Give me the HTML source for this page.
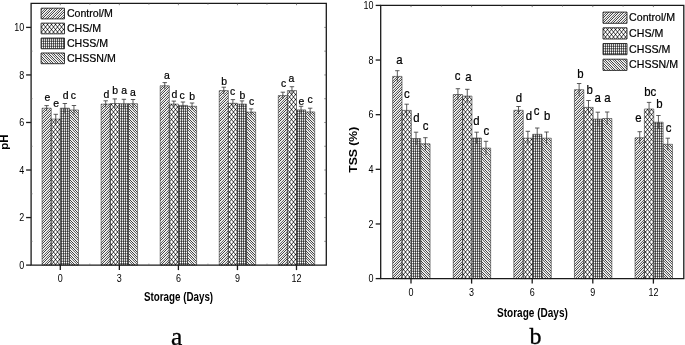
<!DOCTYPE html><html><head><meta charset="utf-8"><title>pH and TSS</title><style>html,body{margin:0;padding:0;background:#fff;width:685px;height:345px;overflow:hidden}svg{display:block;filter:grayscale(1)}</style></head><body>
<svg width="685" height="345" viewBox="0 0 685 345">
<defs><pattern id="ps1" patternUnits="userSpaceOnUse" x="0" y="0" width="5" height="5"><rect width="5" height="5" fill="#fff"/><path d="M0 0h1v1h-1zM1 4h1v1h-1zM2 3h1v1h-1zM3 2h1v1h-1zM4 1h1v1h-1z" fill="rgb(65,65,65)"/><path d="M0 3h1v1h-1zM1 2h1v1h-1zM2 1h1v1h-1zM3 0h1v1h-1zM4 4h1v1h-1z" fill="rgb(105,105,105)"/><path d="M0 2h1v1h-1zM1 1h1v1h-1zM2 0h1v1h-1zM3 4h1v1h-1zM4 3h1v1h-1z" fill="rgb(225,225,225)"/><path d="M0 1h1v1h-1zM1 0h1v1h-1zM2 4h1v1h-1zM3 3h1v1h-1zM4 2h1v1h-1z" fill="rgb(240,240,240)"/><path d="M0 4h1v1h-1zM1 3h1v1h-1zM2 2h1v1h-1zM3 1h1v1h-1zM4 0h1v1h-1z" fill="rgb(245,245,245)"/></pattern><pattern id="ps4" patternUnits="userSpaceOnUse" x="0" y="0" width="5" height="5"><rect width="5" height="5" fill="#fff"/><path d="M0 0h1v1h-1zM1 1h1v1h-1zM2 2h1v1h-1zM3 3h1v1h-1zM4 4h1v1h-1z" fill="rgb(65,65,65)"/><path d="M0 2h1v1h-1zM1 3h1v1h-1zM2 4h1v1h-1zM3 0h1v1h-1zM4 1h1v1h-1z" fill="rgb(105,105,105)"/><path d="M0 3h1v1h-1zM1 4h1v1h-1zM2 0h1v1h-1zM3 1h1v1h-1zM4 2h1v1h-1z" fill="rgb(225,225,225)"/><path d="M0 4h1v1h-1zM1 0h1v1h-1zM2 1h1v1h-1zM3 2h1v1h-1zM4 3h1v1h-1z" fill="rgb(240,240,240)"/><path d="M0 1h1v1h-1zM1 2h1v1h-1zM2 3h1v1h-1zM3 4h1v1h-1zM4 0h1v1h-1z" fill="rgb(245,245,245)"/></pattern><pattern id="pc" patternUnits="userSpaceOnUse" x="0" y="0" width="4" height="5"><rect width="4" height="5" fill="#fff"/><path d="M3 4h1v1h-1z" fill="rgb(12,12,12)"/><path d="M1 1h1v1h-1zM1 2h1v1h-1z" fill="rgb(70,70,70)"/><path d="M0 0h1v1h-1zM0 3h1v1h-1zM2 0h1v1h-1zM2 3h1v1h-1z" fill="rgb(109,109,109)"/><path d="M0 1h1v1h-1zM0 2h1v1h-1zM2 1h1v1h-1zM2 2h1v1h-1z" fill="rgb(188,188,188)"/><path d="M3 0h1v1h-1zM3 3h1v1h-1z" fill="rgb(191,191,191)"/><path d="M0 4h1v1h-1zM2 4h1v1h-1z" fill="rgb(235,235,235)"/></pattern><pattern id="pg" patternUnits="userSpaceOnUse" x="0" y="0" width="2" height="5"><rect width="2" height="5" fill="#fff"/><path d="M1 1h1v1h-1zM1 3h1v1h-1z" fill="rgb(56,56,56)"/><path d="M1 0h1v1h-1zM1 4h1v1h-1z" fill="rgb(87,87,87)"/><path d="M1 2h1v1h-1z" fill="rgb(102,102,102)"/><path d="M0 1h1v1h-1zM0 3h1v1h-1z" fill="rgb(140,140,140)"/><path d="M0 0h1v1h-1zM0 4h1v1h-1z" fill="rgb(217,217,217)"/></pattern></defs>
<rect width="685" height="345" fill="#fff"/>
<path d="M42.10 108.20h9.10v156.90h-9.10ZM101.15 104.10h9.10v161.00h-9.10ZM160.20 85.80h9.10v179.30h-9.10ZM219.25 90.60h9.10v174.50h-9.10ZM278.30 95.60h9.10v169.50h-9.10ZM41.10 8.20h23.40v10.70h-23.40Z" fill="url(#ps1)"/>
<path d="M51.20 119.10h9.10v146.00h-9.10ZM110.25 103.50h9.10v161.60h-9.10ZM169.30 104.10h9.10v161.00h-9.10ZM228.35 103.30h9.10v161.80h-9.10ZM287.40 90.60h9.10v174.50h-9.10ZM41.10 23.13h23.40v10.70h-23.40Z" fill="url(#pc)"/>
<path d="M60.30 108.20h9.10v156.90h-9.10ZM119.35 103.70h9.10v161.40h-9.10ZM178.40 105.40h9.10v159.70h-9.10ZM237.45 104.10h9.10v161.00h-9.10ZM296.50 109.90h9.10v155.20h-9.10ZM41.10 38.06h23.40v10.70h-23.40Z" fill="url(#pg)"/>
<path d="M69.40 110.00h9.10v155.10h-9.10ZM128.45 103.70h9.10v161.40h-9.10ZM187.50 106.30h9.10v158.80h-9.10ZM246.55 112.10h9.10v153.00h-9.10ZM305.60 111.90h9.10v153.20h-9.10ZM41.10 52.99h23.40v10.70h-23.40Z" fill="url(#ps4)"/>
<path d="M42.10 108.20h9.10v156.90h-9.10ZM101.15 104.10h9.10v161.00h-9.10ZM160.20 85.80h9.10v179.30h-9.10ZM219.25 90.60h9.10v174.50h-9.10ZM278.30 95.60h9.10v169.50h-9.10ZM51.20 119.10h9.10v146.00h-9.10ZM110.25 103.50h9.10v161.60h-9.10ZM169.30 104.10h9.10v161.00h-9.10ZM228.35 103.30h9.10v161.80h-9.10ZM287.40 90.60h9.10v174.50h-9.10ZM60.30 108.20h9.10v156.90h-9.10ZM119.35 103.70h9.10v161.40h-9.10ZM178.40 105.40h9.10v159.70h-9.10ZM237.45 104.10h9.10v161.00h-9.10ZM296.50 109.90h9.10v155.20h-9.10ZM69.40 110.00h9.10v155.10h-9.10ZM128.45 103.70h9.10v161.40h-9.10ZM187.50 106.30h9.10v158.80h-9.10ZM246.55 112.10h9.10v153.00h-9.10ZM305.60 111.90h9.10v153.20h-9.10Z" fill="none" stroke="#333" stroke-width="0.6"/>
<path d="M41.10 8.20h23.40v10.70h-23.40ZM41.10 23.13h23.40v10.70h-23.40ZM41.10 38.06h23.40v10.70h-23.40ZM41.10 52.99h23.40v10.70h-23.40Z" fill="none" stroke="#222" stroke-width="0.9"/>
<line x1="46.65" y1="105.60" x2="46.65" y2="110.80" stroke="#333" stroke-width="0.8"/>
<line x1="44.45" y1="105.60" x2="48.85" y2="105.60" stroke="#333" stroke-width="0.8"/>
<line x1="55.75" y1="114.30" x2="55.75" y2="123.90" stroke="#333" stroke-width="0.8"/>
<line x1="53.55" y1="114.30" x2="57.95" y2="114.30" stroke="#333" stroke-width="0.8"/>
<line x1="64.85" y1="103.50" x2="64.85" y2="112.90" stroke="#333" stroke-width="0.8"/>
<line x1="62.65" y1="103.50" x2="67.05" y2="103.50" stroke="#333" stroke-width="0.8"/>
<line x1="73.95" y1="105.50" x2="73.95" y2="114.50" stroke="#333" stroke-width="0.8"/>
<line x1="71.75" y1="105.50" x2="76.15" y2="105.50" stroke="#333" stroke-width="0.8"/>
<text transform="translate(47.40,100.60) scale(0.95,1)" font-family='"Liberation Sans", sans-serif' font-size="11" font-weight="normal" text-anchor="middle" fill="#000" stroke="#000" stroke-width="0.22">e</text>
<text transform="translate(56.20,106.90) scale(0.95,1)" font-family='"Liberation Sans", sans-serif' font-size="11" font-weight="normal" text-anchor="middle" fill="#000" stroke="#000" stroke-width="0.22">e</text>
<text transform="translate(65.60,98.70) scale(0.95,1)" font-family='"Liberation Sans", sans-serif' font-size="11" font-weight="normal" text-anchor="middle" fill="#000" stroke="#000" stroke-width="0.22">d</text>
<text transform="translate(73.40,98.70) scale(0.95,1)" font-family='"Liberation Sans", sans-serif' font-size="11" font-weight="normal" text-anchor="middle" fill="#000" stroke="#000" stroke-width="0.22">c</text>
<line x1="105.70" y1="100.80" x2="105.70" y2="107.40" stroke="#333" stroke-width="0.8"/>
<line x1="103.50" y1="100.80" x2="107.90" y2="100.80" stroke="#333" stroke-width="0.8"/>
<line x1="114.80" y1="98.90" x2="114.80" y2="108.10" stroke="#333" stroke-width="0.8"/>
<line x1="112.60" y1="98.90" x2="117.00" y2="98.90" stroke="#333" stroke-width="0.8"/>
<line x1="123.90" y1="99.30" x2="123.90" y2="108.10" stroke="#333" stroke-width="0.8"/>
<line x1="121.70" y1="99.30" x2="126.10" y2="99.30" stroke="#333" stroke-width="0.8"/>
<line x1="133.00" y1="99.50" x2="133.00" y2="107.90" stroke="#333" stroke-width="0.8"/>
<line x1="130.80" y1="99.50" x2="135.20" y2="99.50" stroke="#333" stroke-width="0.8"/>
<text transform="translate(106.40,98.20) scale(0.95,1)" font-family='"Liberation Sans", sans-serif' font-size="11" font-weight="normal" text-anchor="middle" fill="#000" stroke="#000" stroke-width="0.22">d</text>
<text transform="translate(115.20,93.70) scale(0.95,1)" font-family='"Liberation Sans", sans-serif' font-size="11" font-weight="normal" text-anchor="middle" fill="#000" stroke="#000" stroke-width="0.22">b</text>
<text transform="translate(124.10,94.30) scale(0.95,1)" font-family='"Liberation Sans", sans-serif' font-size="11" font-weight="normal" text-anchor="middle" fill="#000" stroke="#000" stroke-width="0.22">a</text>
<text transform="translate(132.80,96.30) scale(0.95,1)" font-family='"Liberation Sans", sans-serif' font-size="11" font-weight="normal" text-anchor="middle" fill="#000" stroke="#000" stroke-width="0.22">a</text>
<line x1="164.75" y1="82.60" x2="164.75" y2="89.00" stroke="#333" stroke-width="0.8"/>
<line x1="162.55" y1="82.60" x2="166.95" y2="82.60" stroke="#333" stroke-width="0.8"/>
<line x1="173.85" y1="101.10" x2="173.85" y2="107.10" stroke="#333" stroke-width="0.8"/>
<line x1="171.65" y1="101.10" x2="176.05" y2="101.10" stroke="#333" stroke-width="0.8"/>
<line x1="182.95" y1="102.00" x2="182.95" y2="108.80" stroke="#333" stroke-width="0.8"/>
<line x1="180.75" y1="102.00" x2="185.15" y2="102.00" stroke="#333" stroke-width="0.8"/>
<line x1="192.05" y1="103.00" x2="192.05" y2="109.60" stroke="#333" stroke-width="0.8"/>
<line x1="189.85" y1="103.00" x2="194.25" y2="103.00" stroke="#333" stroke-width="0.8"/>
<text transform="translate(167.00,79.10) scale(0.95,1)" font-family='"Liberation Sans", sans-serif' font-size="11" font-weight="normal" text-anchor="middle" fill="#000" stroke="#000" stroke-width="0.22">a</text>
<text transform="translate(174.30,97.60) scale(0.95,1)" font-family='"Liberation Sans", sans-serif' font-size="11" font-weight="normal" text-anchor="middle" fill="#000" stroke="#000" stroke-width="0.22">d</text>
<text transform="translate(182.10,99.10) scale(0.95,1)" font-family='"Liberation Sans", sans-serif' font-size="11" font-weight="normal" text-anchor="middle" fill="#000" stroke="#000" stroke-width="0.22">c</text>
<text transform="translate(192.10,100.20) scale(0.95,1)" font-family='"Liberation Sans", sans-serif' font-size="11" font-weight="normal" text-anchor="middle" fill="#000" stroke="#000" stroke-width="0.22">b</text>
<line x1="223.80" y1="87.20" x2="223.80" y2="94.00" stroke="#333" stroke-width="0.8"/>
<line x1="221.60" y1="87.20" x2="226.00" y2="87.20" stroke="#333" stroke-width="0.8"/>
<line x1="232.90" y1="99.60" x2="232.90" y2="107.00" stroke="#333" stroke-width="0.8"/>
<line x1="230.70" y1="99.60" x2="235.10" y2="99.60" stroke="#333" stroke-width="0.8"/>
<line x1="242.00" y1="100.90" x2="242.00" y2="107.30" stroke="#333" stroke-width="0.8"/>
<line x1="239.80" y1="100.90" x2="244.20" y2="100.90" stroke="#333" stroke-width="0.8"/>
<line x1="251.10" y1="108.90" x2="251.10" y2="115.30" stroke="#333" stroke-width="0.8"/>
<line x1="248.90" y1="108.90" x2="253.30" y2="108.90" stroke="#333" stroke-width="0.8"/>
<text transform="translate(224.20,85.00) scale(0.95,1)" font-family='"Liberation Sans", sans-serif' font-size="11" font-weight="normal" text-anchor="middle" fill="#000" stroke="#000" stroke-width="0.22">b</text>
<text transform="translate(232.50,95.40) scale(0.95,1)" font-family='"Liberation Sans", sans-serif' font-size="11" font-weight="normal" text-anchor="middle" fill="#000" stroke="#000" stroke-width="0.22">c</text>
<text transform="translate(242.40,98.70) scale(0.95,1)" font-family='"Liberation Sans", sans-serif' font-size="11" font-weight="normal" text-anchor="middle" fill="#000" stroke="#000" stroke-width="0.22">b</text>
<text transform="translate(251.50,105.40) scale(0.95,1)" font-family='"Liberation Sans", sans-serif' font-size="11" font-weight="normal" text-anchor="middle" fill="#000" stroke="#000" stroke-width="0.22">c</text>
<line x1="282.85" y1="92.20" x2="282.85" y2="99.00" stroke="#333" stroke-width="0.8"/>
<line x1="280.65" y1="92.20" x2="285.05" y2="92.20" stroke="#333" stroke-width="0.8"/>
<line x1="291.95" y1="86.70" x2="291.95" y2="94.50" stroke="#333" stroke-width="0.8"/>
<line x1="289.75" y1="86.70" x2="294.15" y2="86.70" stroke="#333" stroke-width="0.8"/>
<line x1="301.05" y1="106.30" x2="301.05" y2="113.50" stroke="#333" stroke-width="0.8"/>
<line x1="298.85" y1="106.30" x2="303.25" y2="106.30" stroke="#333" stroke-width="0.8"/>
<line x1="310.15" y1="108.20" x2="310.15" y2="115.60" stroke="#333" stroke-width="0.8"/>
<line x1="307.95" y1="108.20" x2="312.35" y2="108.20" stroke="#333" stroke-width="0.8"/>
<text transform="translate(283.50,87.40) scale(0.95,1)" font-family='"Liberation Sans", sans-serif' font-size="11" font-weight="normal" text-anchor="middle" fill="#000" stroke="#000" stroke-width="0.22">c</text>
<text transform="translate(291.30,82.20) scale(0.95,1)" font-family='"Liberation Sans", sans-serif' font-size="11" font-weight="normal" text-anchor="middle" fill="#000" stroke="#000" stroke-width="0.22">a</text>
<text transform="translate(301.30,105.00) scale(0.95,1)" font-family='"Liberation Sans", sans-serif' font-size="11" font-weight="normal" text-anchor="middle" fill="#000" stroke="#000" stroke-width="0.22">e</text>
<text transform="translate(310.00,103.00) scale(0.95,1)" font-family='"Liberation Sans", sans-serif' font-size="11" font-weight="normal" text-anchor="middle" fill="#000" stroke="#000" stroke-width="0.22">c</text>
<path d="M31.1,3.4 L326.3,3.4 L326.3,265.1 L31.1,265.1 Z" fill="none" stroke="#1a1a1a" stroke-width="1.3"/>
<line x1="26.10" y1="265.10" x2="31.10" y2="265.10" stroke="#1a1a1a" stroke-width="1.3"/>
<text transform="translate(24.30,268.70) scale(0.9,1)" font-family='"Liberation Sans", sans-serif' font-size="10" font-weight="normal" text-anchor="end" fill="#000" >0</text>
<line x1="26.10" y1="217.56" x2="31.10" y2="217.56" stroke="#1a1a1a" stroke-width="1.3"/>
<text transform="translate(24.30,221.16) scale(0.9,1)" font-family='"Liberation Sans", sans-serif' font-size="10" font-weight="normal" text-anchor="end" fill="#000" >2</text>
<line x1="26.10" y1="170.02" x2="31.10" y2="170.02" stroke="#1a1a1a" stroke-width="1.3"/>
<text transform="translate(24.30,173.62) scale(0.9,1)" font-family='"Liberation Sans", sans-serif' font-size="10" font-weight="normal" text-anchor="end" fill="#000" >4</text>
<line x1="26.10" y1="122.48" x2="31.10" y2="122.48" stroke="#1a1a1a" stroke-width="1.3"/>
<text transform="translate(24.30,126.08) scale(0.9,1)" font-family='"Liberation Sans", sans-serif' font-size="10" font-weight="normal" text-anchor="end" fill="#000" >6</text>
<line x1="26.10" y1="74.94" x2="31.10" y2="74.94" stroke="#1a1a1a" stroke-width="1.3"/>
<text transform="translate(24.30,78.54) scale(0.9,1)" font-family='"Liberation Sans", sans-serif' font-size="10" font-weight="normal" text-anchor="end" fill="#000" >8</text>
<line x1="26.10" y1="27.40" x2="31.10" y2="27.40" stroke="#1a1a1a" stroke-width="1.3"/>
<text transform="translate(24.30,31.00) scale(0.9,1)" font-family='"Liberation Sans", sans-serif' font-size="10" font-weight="normal" text-anchor="end" fill="#000" >10</text>
<line x1="31.10" y1="241.33" x2="32.60" y2="241.33" stroke="#666" stroke-width="0.6"/>
<line x1="31.10" y1="193.79" x2="32.60" y2="193.79" stroke="#666" stroke-width="0.6"/>
<line x1="31.10" y1="146.25" x2="32.60" y2="146.25" stroke="#666" stroke-width="0.6"/>
<line x1="31.10" y1="98.71" x2="32.60" y2="98.71" stroke="#666" stroke-width="0.6"/>
<line x1="31.10" y1="51.17" x2="32.60" y2="51.17" stroke="#666" stroke-width="0.6"/>
<line x1="324.30" y1="265.10" x2="326.30" y2="265.10" stroke="#555" stroke-width="0.7"/>
<line x1="324.30" y1="241.33" x2="326.30" y2="241.33" stroke="#555" stroke-width="0.7"/>
<line x1="324.30" y1="217.56" x2="326.30" y2="217.56" stroke="#555" stroke-width="0.7"/>
<line x1="324.30" y1="193.79" x2="326.30" y2="193.79" stroke="#555" stroke-width="0.7"/>
<line x1="324.30" y1="170.02" x2="326.30" y2="170.02" stroke="#555" stroke-width="0.7"/>
<line x1="324.30" y1="146.25" x2="326.30" y2="146.25" stroke="#555" stroke-width="0.7"/>
<line x1="324.30" y1="122.48" x2="326.30" y2="122.48" stroke="#555" stroke-width="0.7"/>
<line x1="324.30" y1="98.71" x2="326.30" y2="98.71" stroke="#555" stroke-width="0.7"/>
<line x1="324.30" y1="74.94" x2="326.30" y2="74.94" stroke="#555" stroke-width="0.7"/>
<line x1="324.30" y1="51.17" x2="326.30" y2="51.17" stroke="#555" stroke-width="0.7"/>
<line x1="324.30" y1="27.40" x2="326.30" y2="27.40" stroke="#555" stroke-width="0.7"/>
<line x1="60.30" y1="265.10" x2="60.30" y2="270.10" stroke="#1a1a1a" stroke-width="1.3"/>
<line x1="60.30" y1="3.40" x2="60.30" y2="5.20" stroke="#555" stroke-width="0.7"/>
<text transform="translate(60.30,281.80) scale(0.9,1)" font-family='"Liberation Sans", sans-serif' font-size="10" font-weight="normal" text-anchor="middle" fill="#000" >0</text>
<line x1="119.35" y1="265.10" x2="119.35" y2="270.10" stroke="#1a1a1a" stroke-width="1.3"/>
<line x1="119.35" y1="3.40" x2="119.35" y2="5.20" stroke="#555" stroke-width="0.7"/>
<text transform="translate(119.35,281.80) scale(0.9,1)" font-family='"Liberation Sans", sans-serif' font-size="10" font-weight="normal" text-anchor="middle" fill="#000" >3</text>
<line x1="178.40" y1="265.10" x2="178.40" y2="270.10" stroke="#1a1a1a" stroke-width="1.3"/>
<line x1="178.40" y1="3.40" x2="178.40" y2="5.20" stroke="#555" stroke-width="0.7"/>
<text transform="translate(178.40,281.80) scale(0.9,1)" font-family='"Liberation Sans", sans-serif' font-size="10" font-weight="normal" text-anchor="middle" fill="#000" >6</text>
<line x1="237.45" y1="265.10" x2="237.45" y2="270.10" stroke="#1a1a1a" stroke-width="1.3"/>
<line x1="237.45" y1="3.40" x2="237.45" y2="5.20" stroke="#555" stroke-width="0.7"/>
<text transform="translate(237.45,281.80) scale(0.9,1)" font-family='"Liberation Sans", sans-serif' font-size="10" font-weight="normal" text-anchor="middle" fill="#000" >9</text>
<line x1="296.50" y1="265.10" x2="296.50" y2="270.10" stroke="#1a1a1a" stroke-width="1.3"/>
<line x1="296.50" y1="3.40" x2="296.50" y2="5.20" stroke="#555" stroke-width="0.7"/>
<text transform="translate(296.50,281.80) scale(0.9,1)" font-family='"Liberation Sans", sans-serif' font-size="10" font-weight="normal" text-anchor="middle" fill="#000" >12</text>
<line x1="89.82" y1="3.40" x2="89.82" y2="4.90" stroke="#666" stroke-width="0.6"/>
<line x1="89.82" y1="263.60" x2="89.82" y2="265.10" stroke="#666" stroke-width="0.6"/>
<line x1="148.88" y1="3.40" x2="148.88" y2="4.90" stroke="#666" stroke-width="0.6"/>
<line x1="148.88" y1="263.60" x2="148.88" y2="265.10" stroke="#666" stroke-width="0.6"/>
<line x1="207.93" y1="3.40" x2="207.93" y2="4.90" stroke="#666" stroke-width="0.6"/>
<line x1="207.93" y1="263.60" x2="207.93" y2="265.10" stroke="#666" stroke-width="0.6"/>
<line x1="266.97" y1="3.40" x2="266.97" y2="4.90" stroke="#666" stroke-width="0.6"/>
<line x1="266.97" y1="263.60" x2="266.97" y2="265.10" stroke="#666" stroke-width="0.6"/>
<text transform="translate(66.90,17.20) scale(0.915,1)" font-family='"Liberation Sans", sans-serif' font-size="11.6" font-weight="normal" text-anchor="start" fill="#000" stroke="#000" stroke-width="0.22">Control/M</text>
<text transform="translate(66.90,32.13) scale(0.915,1)" font-family='"Liberation Sans", sans-serif' font-size="11.6" font-weight="normal" text-anchor="start" fill="#000" stroke="#000" stroke-width="0.22">CHS/M</text>
<text transform="translate(66.90,47.06) scale(0.915,1)" font-family='"Liberation Sans", sans-serif' font-size="11.6" font-weight="normal" text-anchor="start" fill="#000" stroke="#000" stroke-width="0.22">CHSS/M</text>
<text transform="translate(66.90,61.99) scale(0.915,1)" font-family='"Liberation Sans", sans-serif' font-size="11.6" font-weight="normal" text-anchor="start" fill="#000" stroke="#000" stroke-width="0.22">CHSSN/M</text>
<text transform="translate(8.10,142.00) rotate(-90)" font-family='"Liberation Sans", sans-serif' font-size="11.5" font-weight="bold" text-anchor="middle" fill="#000" >pH</text>
<text transform="translate(178.55,300.60) scale(0.817,1)" font-family='"Liberation Sans", sans-serif' font-size="12.0" font-weight="bold" text-anchor="middle" fill="#000" >Storage (Days)</text>
<text transform="translate(176.60,345.40)" font-family='"Liberation Serif", serif' font-size="25.5" font-weight="normal" text-anchor="middle" fill="#000" stroke="#000" stroke-width="0.3">a</text>
<path d="M392.65 76.40h9.35v202.20h-9.35ZM453.25 94.50h9.35v184.10h-9.35ZM513.85 110.30h9.35v168.30h-9.35ZM574.45 89.70h9.35v188.90h-9.35ZM635.05 137.80h9.35v140.80h-9.35ZM603.00 12.10h24.00v11.20h-24.00Z" fill="url(#ps1)"/>
<path d="M402.00 110.40h9.35v168.20h-9.35ZM462.60 96.10h9.35v182.50h-9.35ZM523.20 138.20h9.35v140.40h-9.35ZM583.80 107.40h9.35v171.20h-9.35ZM644.40 109.00h9.35v169.60h-9.35ZM603.00 27.80h24.00v11.20h-24.00Z" fill="url(#pc)"/>
<path d="M411.35 138.60h9.35v140.00h-9.35ZM471.95 138.00h9.35v140.60h-9.35ZM532.55 134.30h9.35v144.30h-9.35ZM593.15 119.10h9.35v159.50h-9.35ZM653.75 122.20h9.35v156.40h-9.35ZM603.00 43.50h24.00v11.20h-24.00Z" fill="url(#pg)"/>
<path d="M420.70 143.80h9.35v134.80h-9.35ZM481.30 148.10h9.35v130.50h-9.35ZM541.90 138.20h9.35v140.40h-9.35ZM602.50 118.50h9.35v160.10h-9.35ZM663.10 144.30h9.35v134.30h-9.35ZM603.00 59.20h24.00v11.20h-24.00Z" fill="url(#ps4)"/>
<path d="M392.65 76.40h9.35v202.20h-9.35ZM453.25 94.50h9.35v184.10h-9.35ZM513.85 110.30h9.35v168.30h-9.35ZM574.45 89.70h9.35v188.90h-9.35ZM635.05 137.80h9.35v140.80h-9.35ZM402.00 110.40h9.35v168.20h-9.35ZM462.60 96.10h9.35v182.50h-9.35ZM523.20 138.20h9.35v140.40h-9.35ZM583.80 107.40h9.35v171.20h-9.35ZM644.40 109.00h9.35v169.60h-9.35ZM411.35 138.60h9.35v140.00h-9.35ZM471.95 138.00h9.35v140.60h-9.35ZM532.55 134.30h9.35v144.30h-9.35ZM593.15 119.10h9.35v159.50h-9.35ZM653.75 122.20h9.35v156.40h-9.35ZM420.70 143.80h9.35v134.80h-9.35ZM481.30 148.10h9.35v130.50h-9.35ZM541.90 138.20h9.35v140.40h-9.35ZM602.50 118.50h9.35v160.10h-9.35ZM663.10 144.30h9.35v134.30h-9.35Z" fill="none" stroke="#333" stroke-width="0.6"/>
<path d="M603.00 12.10h24.00v11.20h-24.00ZM603.00 27.80h24.00v11.20h-24.00ZM603.00 43.50h24.00v11.20h-24.00ZM603.00 59.20h24.00v11.20h-24.00Z" fill="none" stroke="#222" stroke-width="0.9"/>
<line x1="397.33" y1="70.70" x2="397.33" y2="82.10" stroke="#333" stroke-width="0.8"/>
<line x1="395.13" y1="70.70" x2="399.53" y2="70.70" stroke="#333" stroke-width="0.8"/>
<line x1="406.68" y1="104.20" x2="406.68" y2="116.60" stroke="#333" stroke-width="0.8"/>
<line x1="404.48" y1="104.20" x2="408.88" y2="104.20" stroke="#333" stroke-width="0.8"/>
<line x1="416.03" y1="132.20" x2="416.03" y2="145.00" stroke="#333" stroke-width="0.8"/>
<line x1="413.83" y1="132.20" x2="418.23" y2="132.20" stroke="#333" stroke-width="0.8"/>
<line x1="425.38" y1="137.70" x2="425.38" y2="149.90" stroke="#333" stroke-width="0.8"/>
<line x1="423.18" y1="137.70" x2="427.58" y2="137.70" stroke="#333" stroke-width="0.8"/>
<text transform="translate(399.30,64.00) scale(0.95,1)" font-family='"Liberation Sans", sans-serif' font-size="12" font-weight="normal" text-anchor="middle" fill="#000" stroke="#000" stroke-width="0.22">a</text>
<text transform="translate(406.80,97.80) scale(0.95,1)" font-family='"Liberation Sans", sans-serif' font-size="12" font-weight="normal" text-anchor="middle" fill="#000" stroke="#000" stroke-width="0.22">c</text>
<text transform="translate(416.30,121.70) scale(0.95,1)" font-family='"Liberation Sans", sans-serif' font-size="12" font-weight="normal" text-anchor="middle" fill="#000" stroke="#000" stroke-width="0.22">d</text>
<text transform="translate(425.60,129.70) scale(0.95,1)" font-family='"Liberation Sans", sans-serif' font-size="12" font-weight="normal" text-anchor="middle" fill="#000" stroke="#000" stroke-width="0.22">c</text>
<line x1="457.93" y1="88.70" x2="457.93" y2="100.30" stroke="#333" stroke-width="0.8"/>
<line x1="455.73" y1="88.70" x2="460.13" y2="88.70" stroke="#333" stroke-width="0.8"/>
<line x1="467.28" y1="89.30" x2="467.28" y2="102.90" stroke="#333" stroke-width="0.8"/>
<line x1="465.08" y1="89.30" x2="469.48" y2="89.30" stroke="#333" stroke-width="0.8"/>
<line x1="476.63" y1="132.20" x2="476.63" y2="143.80" stroke="#333" stroke-width="0.8"/>
<line x1="474.43" y1="132.20" x2="478.83" y2="132.20" stroke="#333" stroke-width="0.8"/>
<line x1="485.98" y1="141.30" x2="485.98" y2="154.90" stroke="#333" stroke-width="0.8"/>
<line x1="483.78" y1="141.30" x2="488.18" y2="141.30" stroke="#333" stroke-width="0.8"/>
<text transform="translate(457.70,80.20) scale(0.95,1)" font-family='"Liberation Sans", sans-serif' font-size="12" font-weight="normal" text-anchor="middle" fill="#000" stroke="#000" stroke-width="0.22">c</text>
<text transform="translate(468.40,81.10) scale(0.95,1)" font-family='"Liberation Sans", sans-serif' font-size="12" font-weight="normal" text-anchor="middle" fill="#000" stroke="#000" stroke-width="0.22">a</text>
<text transform="translate(476.50,124.60) scale(0.95,1)" font-family='"Liberation Sans", sans-serif' font-size="12" font-weight="normal" text-anchor="middle" fill="#000" stroke="#000" stroke-width="0.22">d</text>
<text transform="translate(486.40,135.40) scale(0.95,1)" font-family='"Liberation Sans", sans-serif' font-size="12" font-weight="normal" text-anchor="middle" fill="#000" stroke="#000" stroke-width="0.22">c</text>
<line x1="518.52" y1="106.50" x2="518.52" y2="114.10" stroke="#333" stroke-width="0.8"/>
<line x1="516.32" y1="106.50" x2="520.73" y2="106.50" stroke="#333" stroke-width="0.8"/>
<line x1="527.88" y1="131.30" x2="527.88" y2="145.10" stroke="#333" stroke-width="0.8"/>
<line x1="525.67" y1="131.30" x2="530.08" y2="131.30" stroke="#333" stroke-width="0.8"/>
<line x1="537.23" y1="128.00" x2="537.23" y2="140.60" stroke="#333" stroke-width="0.8"/>
<line x1="535.02" y1="128.00" x2="539.43" y2="128.00" stroke="#333" stroke-width="0.8"/>
<line x1="546.57" y1="132.00" x2="546.57" y2="144.40" stroke="#333" stroke-width="0.8"/>
<line x1="544.37" y1="132.00" x2="548.77" y2="132.00" stroke="#333" stroke-width="0.8"/>
<text transform="translate(518.90,101.50) scale(0.95,1)" font-family='"Liberation Sans", sans-serif' font-size="12" font-weight="normal" text-anchor="middle" fill="#000" stroke="#000" stroke-width="0.22">d</text>
<text transform="translate(528.80,120.20) scale(0.95,1)" font-family='"Liberation Sans", sans-serif' font-size="12" font-weight="normal" text-anchor="middle" fill="#000" stroke="#000" stroke-width="0.22">d</text>
<text transform="translate(536.50,115.20) scale(0.95,1)" font-family='"Liberation Sans", sans-serif' font-size="12" font-weight="normal" text-anchor="middle" fill="#000" stroke="#000" stroke-width="0.22">c</text>
<text transform="translate(547.20,119.80) scale(0.95,1)" font-family='"Liberation Sans", sans-serif' font-size="12" font-weight="normal" text-anchor="middle" fill="#000" stroke="#000" stroke-width="0.22">b</text>
<line x1="579.12" y1="83.50" x2="579.12" y2="95.90" stroke="#333" stroke-width="0.8"/>
<line x1="576.92" y1="83.50" x2="581.32" y2="83.50" stroke="#333" stroke-width="0.8"/>
<line x1="588.47" y1="100.50" x2="588.47" y2="114.30" stroke="#333" stroke-width="0.8"/>
<line x1="586.27" y1="100.50" x2="590.67" y2="100.50" stroke="#333" stroke-width="0.8"/>
<line x1="597.82" y1="112.20" x2="597.82" y2="126.00" stroke="#333" stroke-width="0.8"/>
<line x1="595.62" y1="112.20" x2="600.02" y2="112.20" stroke="#333" stroke-width="0.8"/>
<line x1="607.17" y1="112.00" x2="607.17" y2="125.00" stroke="#333" stroke-width="0.8"/>
<line x1="604.97" y1="112.00" x2="609.37" y2="112.00" stroke="#333" stroke-width="0.8"/>
<text transform="translate(580.30,78.30) scale(0.95,1)" font-family='"Liberation Sans", sans-serif' font-size="12" font-weight="normal" text-anchor="middle" fill="#000" stroke="#000" stroke-width="0.22">b</text>
<text transform="translate(589.70,94.20) scale(0.95,1)" font-family='"Liberation Sans", sans-serif' font-size="12" font-weight="normal" text-anchor="middle" fill="#000" stroke="#000" stroke-width="0.22">b</text>
<text transform="translate(597.60,101.50) scale(0.95,1)" font-family='"Liberation Sans", sans-serif' font-size="12" font-weight="normal" text-anchor="middle" fill="#000" stroke="#000" stroke-width="0.22">a</text>
<text transform="translate(607.40,101.50) scale(0.95,1)" font-family='"Liberation Sans", sans-serif' font-size="12" font-weight="normal" text-anchor="middle" fill="#000" stroke="#000" stroke-width="0.22">a</text>
<line x1="639.72" y1="131.70" x2="639.72" y2="143.90" stroke="#333" stroke-width="0.8"/>
<line x1="637.52" y1="131.70" x2="641.92" y2="131.70" stroke="#333" stroke-width="0.8"/>
<line x1="649.07" y1="102.40" x2="649.07" y2="115.60" stroke="#333" stroke-width="0.8"/>
<line x1="646.87" y1="102.40" x2="651.27" y2="102.40" stroke="#333" stroke-width="0.8"/>
<line x1="658.42" y1="115.50" x2="658.42" y2="128.90" stroke="#333" stroke-width="0.8"/>
<line x1="656.22" y1="115.50" x2="660.62" y2="115.50" stroke="#333" stroke-width="0.8"/>
<line x1="667.77" y1="138.20" x2="667.77" y2="150.40" stroke="#333" stroke-width="0.8"/>
<line x1="665.57" y1="138.20" x2="669.97" y2="138.20" stroke="#333" stroke-width="0.8"/>
<text transform="translate(638.30,121.50) scale(0.95,1)" font-family='"Liberation Sans", sans-serif' font-size="12" font-weight="normal" text-anchor="middle" fill="#000" stroke="#000" stroke-width="0.22">e</text>
<text transform="translate(650.20,95.70) scale(0.95,1)" font-family='"Liberation Sans", sans-serif' font-size="12" font-weight="normal" text-anchor="middle" fill="#000" stroke="#000" stroke-width="0.22">bc</text>
<text transform="translate(659.30,108.00) scale(0.95,1)" font-family='"Liberation Sans", sans-serif' font-size="12" font-weight="normal" text-anchor="middle" fill="#000" stroke="#000" stroke-width="0.22">b</text>
<text transform="translate(668.70,132.20) scale(0.95,1)" font-family='"Liberation Sans", sans-serif' font-size="12" font-weight="normal" text-anchor="middle" fill="#000" stroke="#000" stroke-width="0.22">c</text>
<path d="M380.7,5.3 L683.8,5.3 L683.8,278.6 L380.7,278.6 Z" fill="none" stroke="#1a1a1a" stroke-width="1.3"/>
<line x1="375.70" y1="278.60" x2="380.70" y2="278.60" stroke="#1a1a1a" stroke-width="1.3"/>
<text transform="translate(373.40,282.20) scale(0.9,1)" font-family='"Liberation Sans", sans-serif' font-size="10" font-weight="normal" text-anchor="end" fill="#000" >0</text>
<line x1="375.70" y1="223.96" x2="380.70" y2="223.96" stroke="#1a1a1a" stroke-width="1.3"/>
<text transform="translate(373.40,227.56) scale(0.9,1)" font-family='"Liberation Sans", sans-serif' font-size="10" font-weight="normal" text-anchor="end" fill="#000" >2</text>
<line x1="375.70" y1="169.32" x2="380.70" y2="169.32" stroke="#1a1a1a" stroke-width="1.3"/>
<text transform="translate(373.40,172.92) scale(0.9,1)" font-family='"Liberation Sans", sans-serif' font-size="10" font-weight="normal" text-anchor="end" fill="#000" >4</text>
<line x1="375.70" y1="114.68" x2="380.70" y2="114.68" stroke="#1a1a1a" stroke-width="1.3"/>
<text transform="translate(373.40,118.28) scale(0.9,1)" font-family='"Liberation Sans", sans-serif' font-size="10" font-weight="normal" text-anchor="end" fill="#000" >6</text>
<line x1="375.70" y1="60.04" x2="380.70" y2="60.04" stroke="#1a1a1a" stroke-width="1.3"/>
<text transform="translate(373.40,63.64) scale(0.9,1)" font-family='"Liberation Sans", sans-serif' font-size="10" font-weight="normal" text-anchor="end" fill="#000" >8</text>
<line x1="375.70" y1="5.40" x2="380.70" y2="5.40" stroke="#1a1a1a" stroke-width="1.3"/>
<text transform="translate(373.40,9.00) scale(0.9,1)" font-family='"Liberation Sans", sans-serif' font-size="10" font-weight="normal" text-anchor="end" fill="#000" >10</text>
<line x1="411.00" y1="278.60" x2="411.00" y2="283.60" stroke="#1a1a1a" stroke-width="1.3"/>
<line x1="411.00" y1="5.30" x2="411.00" y2="7.10" stroke="#555" stroke-width="0.7"/>
<text transform="translate(411.00,296.00) scale(0.9,1)" font-family='"Liberation Sans", sans-serif' font-size="10" font-weight="normal" text-anchor="middle" fill="#000" >0</text>
<line x1="471.60" y1="278.60" x2="471.60" y2="283.60" stroke="#1a1a1a" stroke-width="1.3"/>
<line x1="471.60" y1="5.30" x2="471.60" y2="7.10" stroke="#555" stroke-width="0.7"/>
<text transform="translate(471.60,296.00) scale(0.9,1)" font-family='"Liberation Sans", sans-serif' font-size="10" font-weight="normal" text-anchor="middle" fill="#000" >3</text>
<line x1="532.20" y1="278.60" x2="532.20" y2="283.60" stroke="#1a1a1a" stroke-width="1.3"/>
<line x1="532.20" y1="5.30" x2="532.20" y2="7.10" stroke="#555" stroke-width="0.7"/>
<text transform="translate(532.20,296.00) scale(0.9,1)" font-family='"Liberation Sans", sans-serif' font-size="10" font-weight="normal" text-anchor="middle" fill="#000" >6</text>
<line x1="592.80" y1="278.60" x2="592.80" y2="283.60" stroke="#1a1a1a" stroke-width="1.3"/>
<line x1="592.80" y1="5.30" x2="592.80" y2="7.10" stroke="#555" stroke-width="0.7"/>
<text transform="translate(592.80,296.00) scale(0.9,1)" font-family='"Liberation Sans", sans-serif' font-size="10" font-weight="normal" text-anchor="middle" fill="#000" >9</text>
<line x1="653.40" y1="278.60" x2="653.40" y2="283.60" stroke="#1a1a1a" stroke-width="1.3"/>
<line x1="653.40" y1="5.30" x2="653.40" y2="7.10" stroke="#555" stroke-width="0.7"/>
<text transform="translate(653.40,296.00) scale(0.9,1)" font-family='"Liberation Sans", sans-serif' font-size="10" font-weight="normal" text-anchor="middle" fill="#000" >12</text>
<line x1="441.30" y1="5.30" x2="441.30" y2="6.80" stroke="#666" stroke-width="0.6"/>
<line x1="501.90" y1="5.30" x2="501.90" y2="6.80" stroke="#666" stroke-width="0.6"/>
<line x1="562.50" y1="5.30" x2="562.50" y2="6.80" stroke="#666" stroke-width="0.6"/>
<line x1="623.10" y1="5.30" x2="623.10" y2="6.80" stroke="#666" stroke-width="0.6"/>
<text transform="translate(629.10,21.30) scale(0.915,1)" font-family='"Liberation Sans", sans-serif' font-size="11.6" font-weight="normal" text-anchor="start" fill="#000" stroke="#000" stroke-width="0.22">Control/M</text>
<text transform="translate(629.10,37.00) scale(0.915,1)" font-family='"Liberation Sans", sans-serif' font-size="11.6" font-weight="normal" text-anchor="start" fill="#000" stroke="#000" stroke-width="0.22">CHS/M</text>
<text transform="translate(629.10,52.70) scale(0.915,1)" font-family='"Liberation Sans", sans-serif' font-size="11.6" font-weight="normal" text-anchor="start" fill="#000" stroke="#000" stroke-width="0.22">CHSS/M</text>
<text transform="translate(629.10,68.40) scale(0.915,1)" font-family='"Liberation Sans", sans-serif' font-size="11.6" font-weight="normal" text-anchor="start" fill="#000" stroke="#000" stroke-width="0.22">CHSSN/M</text>
<text transform="translate(357.00,149.75) rotate(-90) scale(1.06,1)" font-family='"Liberation Sans", sans-serif' font-size="11.5" font-weight="bold" text-anchor="middle" fill="#000" >TSS (%)</text>
<text transform="translate(532.40,316.70) scale(0.844,1)" font-family='"Liberation Sans", sans-serif' font-size="11.9" font-weight="bold" text-anchor="middle" fill="#000" >Storage (Days)</text>
<text transform="translate(535.40,344.30)" font-family='"Liberation Serif", serif' font-size="24" font-weight="normal" text-anchor="middle" fill="#000" stroke="#000" stroke-width="0.3">b</text>
</svg></body></html>
